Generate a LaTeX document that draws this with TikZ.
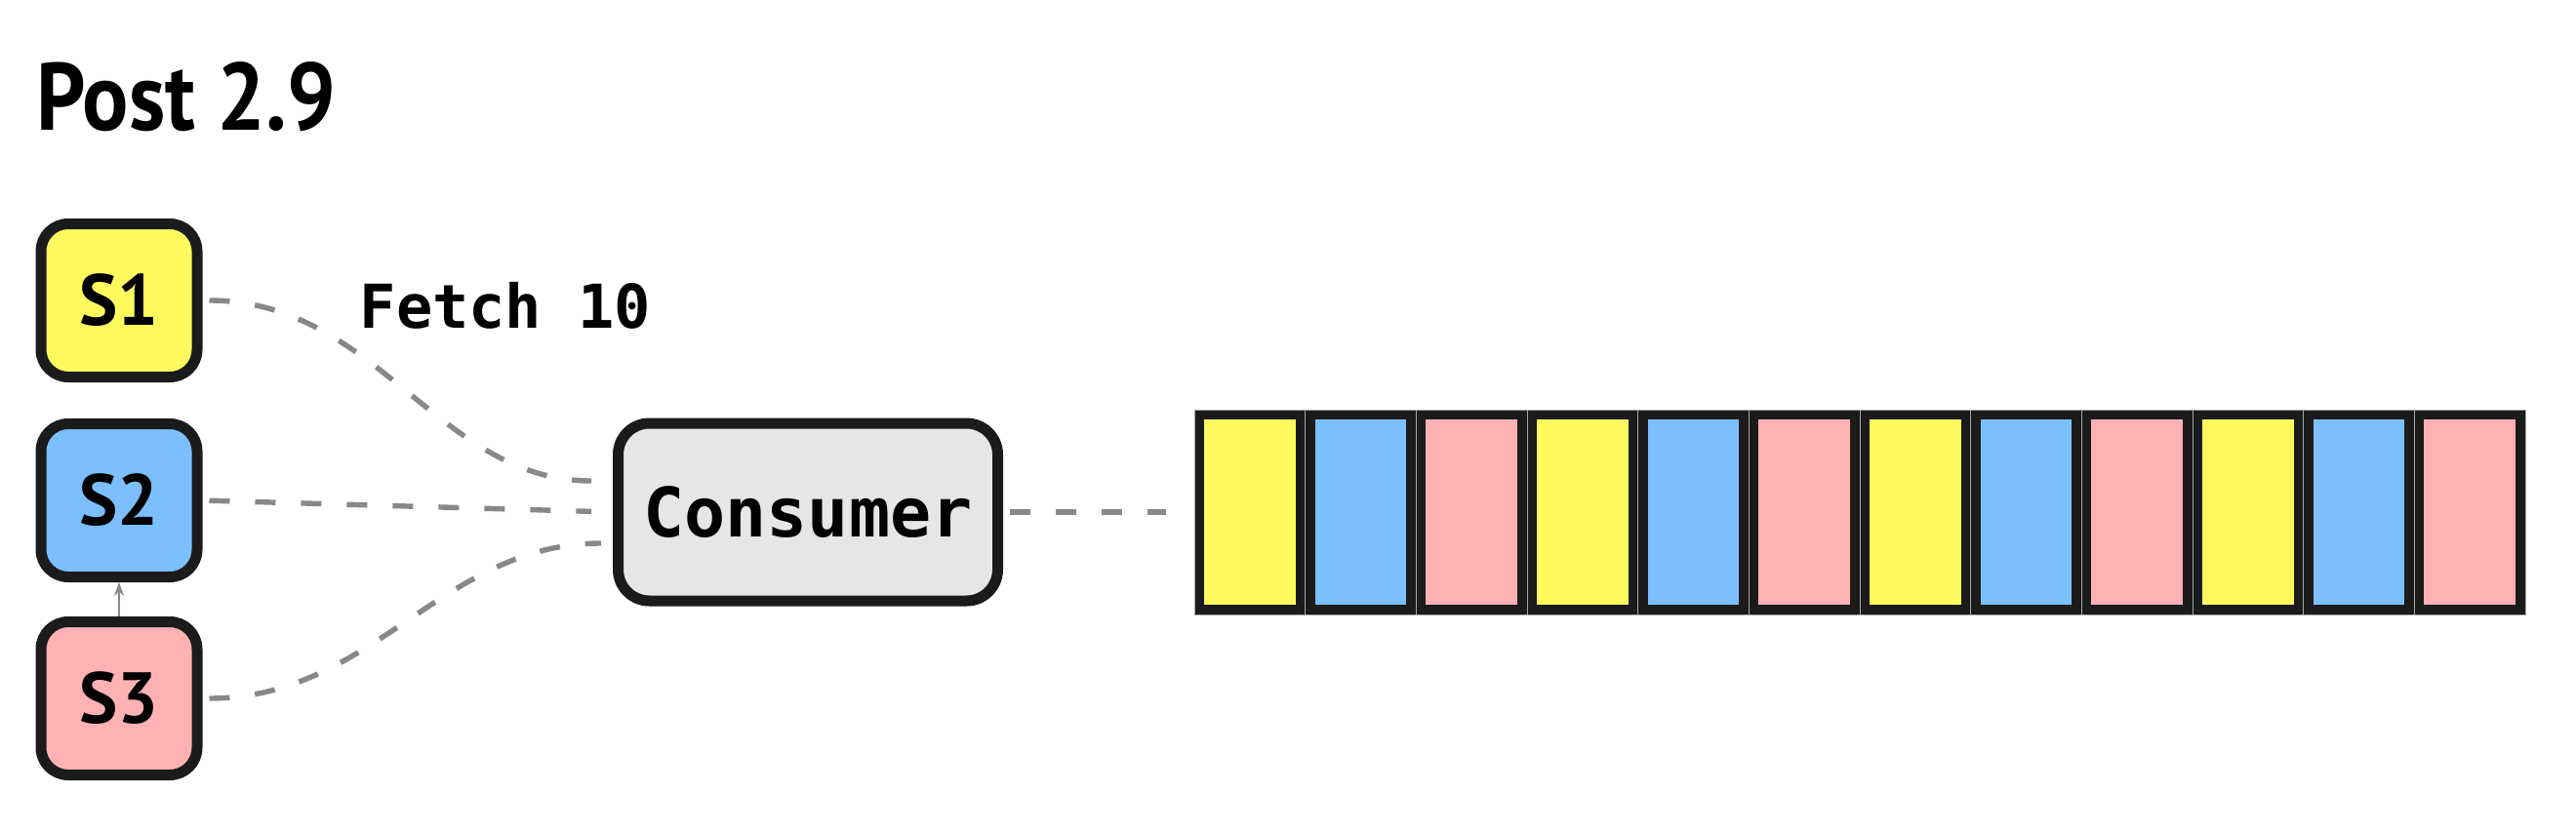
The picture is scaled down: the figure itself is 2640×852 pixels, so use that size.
\documentclass[tikz,border=0pt]{standalone}
\usepackage{fontspec}
\setmainfont{PT Sans}
\setmonofont{DejaVu Sans Mono}
\newfontfamily\titlefont{PT Sans}[FakeStretch=0.9]
\usepackage{xcolor}
\usetikzlibrary{arrows.meta}

\definecolor{boxline}{HTML}{1B1B1B}
\definecolor{syellow}{HTML}{FFFA5E}
\definecolor{sblue}{HTML}{7BBFFF}
\definecolor{spink}{HTML}{FFB1B3}
\definecolor{cgray}{HTML}{E6E6E6}
\definecolor{linkgray}{HTML}{888888}

\begin{document}
\begin{tikzpicture}[x=0.5pt,y=-0.5pt,
    source/.style={draw=boxline,line width=5.5pt,rounded corners=14pt,
      minimum width=80pt,minimum height=78.5pt,inner sep=0pt,
      font=\fontsize{37}{40}\selectfont\bfseries},
    consumerbox/.style={draw=boxline,fill=cgray,line width=5.5pt,rounded corners=16pt,
      minimum width=194.5pt,minimum height=91pt,inner sep=0pt,
      font=\fontsize{35}{38}\selectfont\ttfamily\bfseries},
    link/.style={draw=linkgray,line width=2.7pt,dash pattern=on 10.5pt off 13pt},
    cell/.style={fill=boxline,draw=gray!70,line width=0.4pt,
      minimum width=56.83pt,minimum height=105pt,inner sep=0pt},
    cellfill/.style={minimum width=46.8pt,minimum height=95pt,inner sep=0pt}]

    % Page size
    \useasboundingbox (0,0) rectangle (2640,852);

    % Title
    \node[anchor=base west,inner sep=0pt,font=\fontsize{49}{54}\titlefont\bfseries] (title) at (37,133) {Post 2.9};

    % Sources
    \node[source,fill=syellow] (s1) at (122,308) {S1};
    \node[source,fill=sblue] (s2) at (122,513) {S2};
    \node[source,fill=spink] (s3) at (122,716) {S3};
    \draw[linkgray,line width=0.8pt,-{Stealth[length=7pt,width=5pt]}] (s3.north) -- (s2.south);

    % Consumer
    \node[consumerbox] (consumer) at (828,525) {Consumer};
    \node[font=\fontsize{31}{34}\selectfont\ttfamily\bfseries] (fetch) at (518,313) {Fetch 10};

    % Fetched messages
    \foreach \c [count=\i] in {syellow,sblue,spink,syellow,sblue,spink,syellow,sblue,spink,syellow,sblue,spink} {
        \pgfmathsetmacro\cx{1224+113.67*(\i-0.5)}
        \node[cell] (bar\i) at (\cx,525) {};
        \node[cellfill,fill=\c] at (bar\i) {};
    }

    % Links
    \draw[link,shorten <=3.5pt,shorten >=11pt] (s1.east) to[out=0,in=180] ([yshift=16pt]consumer.west);
    \draw[link,shorten <=3.5pt,shorten >=11pt] (s2.east) -- (consumer.west);
    \draw[link,shorten <=3.5pt,shorten >=6pt] (s3.east) to[out=0,in=180] ([yshift=-16pt]consumer.west);
    \draw[link,shorten <=3.5pt,shorten >=14.5pt] (consumer.east) -- (bar1.west);
\end{tikzpicture}
\end{document}
